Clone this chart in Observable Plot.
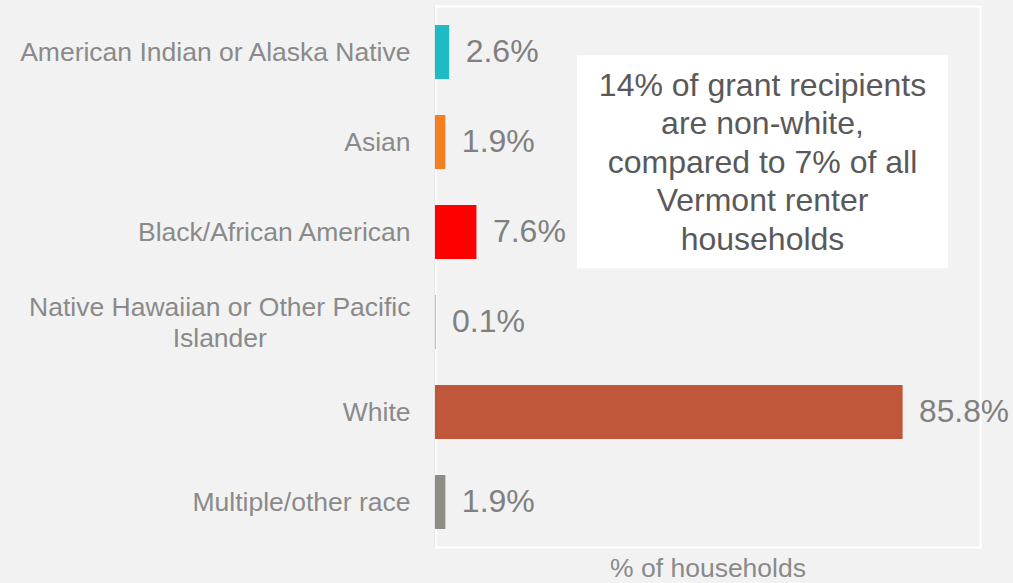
<!DOCTYPE html>
<html>
<head>
<meta charset="utf-8">
<script src="https://cdn.jsdelivr.net/npm/d3@7"></script>
<script src="https://cdn.jsdelivr.net/npm/@observablehq/plot@0.6"></script>
<style>
  html, body { margin: 0; padding: 0; background: #f2f2f2; }
  #chart svg { display: block; }
</style>
</head>
<body>
<div id="chart"></div>
<script>
const categories = [
  "American Indian or Alaska Native",
  "Asian",
  "Black/African American",
  "Native Hawaiian or Other Pacific\nIslander",
  "White",
  "Multiple/other race"
];
const values = [2.6, 1.9, 7.6, 0.1, 85.8, 1.9];
const colors = ["#1FBAC4", "#F47F20", "#FF0000", "#5B9BD5", "#C0573A", "#8F8E84"];
const valueLabels = ["2.6%", "1.9%", "7.6%", "0.1%", "85.8%", "1.9%"];
const annotation = "14% of grant recipients\nare non-white,\ncompared to 7% of all\nVermont renter\nhouseholds";
const axisTitle = "% of households";

const data = categories.map((c, i) => ({cat: c, value: values[i], label: valueLabels[i]}));

const font = "Liberation Sans, Arial, sans-serif";
const W = 1013;

const chart = Plot.plot({
  width: W,
  height: 583,
  marginLeft: 435,
  marginRight: 33,
  marginTop: 6,
  marginBottom: 36,
  style: {background: "#f2f2f2", fontFamily: font},
  x: {domain: [0, 100], axis: null},
  y: {domain: categories, paddingInner: 0.4, paddingOuter: 0.2, axis: null},
  color: {domain: categories, range: colors},
  marks: [
    Plot.frame({stroke: "white", strokeWidth: 2}),
    Plot.ruleX([0], {stroke: "#e6e6e6", strokeWidth: 1, dx: -1}),
    Plot.barX(data, {y: "cat", x: "value", fill: "cat"}),
    Plot.text(data, {y: "cat", x: "value", text: "label", textAnchor: "start", dx: 16, dy: -1,
      fontSize: 32, fill: "#808080"}),
    Plot.axisY({tickSize: 0, tickPadding: 25, fontSize: 26.5, color: "#8a8a8a", dy: -1,
      lineHeight: 1.17, textOverflow: null, lineWidth: Infinity, label: null}),
    Plot.text([annotation], {x: 60, frameAnchor: "top", lineAnchor: "middle", dy: 154, fontSize: 32,
      fill: "#595959", lineHeight: 1.2, textAnchor: "middle"}),
    Plot.text([axisTitle], {frameAnchor: "bottom", lineAnchor: "middle", dy: 21, fontSize: 26.5, fill: "#8a8a8a"})
  ]
});

document.getElementById("chart").appendChild(chart);

const texts = Array.from(chart.querySelectorAll("text"));

// white box behind annotation
const annotText = texts.find(t => t.textContent.startsWith("14%"));
if (annotText) {
  const bb = annotText.getBBox();
  const ctm = annotText.getCTM();
  const cx = ctm.e + bb.x + bb.width / 2, cy = ctm.f + bb.y + bb.height / 2;
  const w = 371, h = 213;
  const rect = document.createElementNS("http://www.w3.org/2000/svg", "rect");
  rect.setAttribute("x", cx - w / 2);
  rect.setAttribute("y", cy - h / 2);
  rect.setAttribute("width", w);
  rect.setAttribute("height", h);
  rect.setAttribute("fill", "white");
  const g = annotText.parentNode;
  g.parentNode.insertBefore(rect, g);
}

// center lines of multi-line y-axis tick labels
texts.forEach(t => {
  if (!t.textContent.startsWith("Native")) return;
  const spans = t.querySelectorAll("tspan");
  if (spans.length > 1) {
    const widths = Array.from(spans).map(s => s.getComputedTextLength());
    const maxW = Math.max(...widths);
    spans.forEach(s => {
      s.setAttribute("text-anchor", "middle");
      s.setAttribute("x", -maxW / 2);
    });
  }
});

// squeeze value labels that would overflow the right edge
texts.forEach(t => {
  if (!valueLabels.includes(t.textContent)) return;
  const bb = t.getBBox();
  const ctm = t.getCTM();
  const left = ctm.e + bb.x;
  const right = left + bb.width;
  if (right > W - 4) {
    t.setAttribute("textLength", (W - 4) - left);
    t.setAttribute("lengthAdjust", "spacingAndGlyphs");
  }
});
</script>
</body>
</html>
